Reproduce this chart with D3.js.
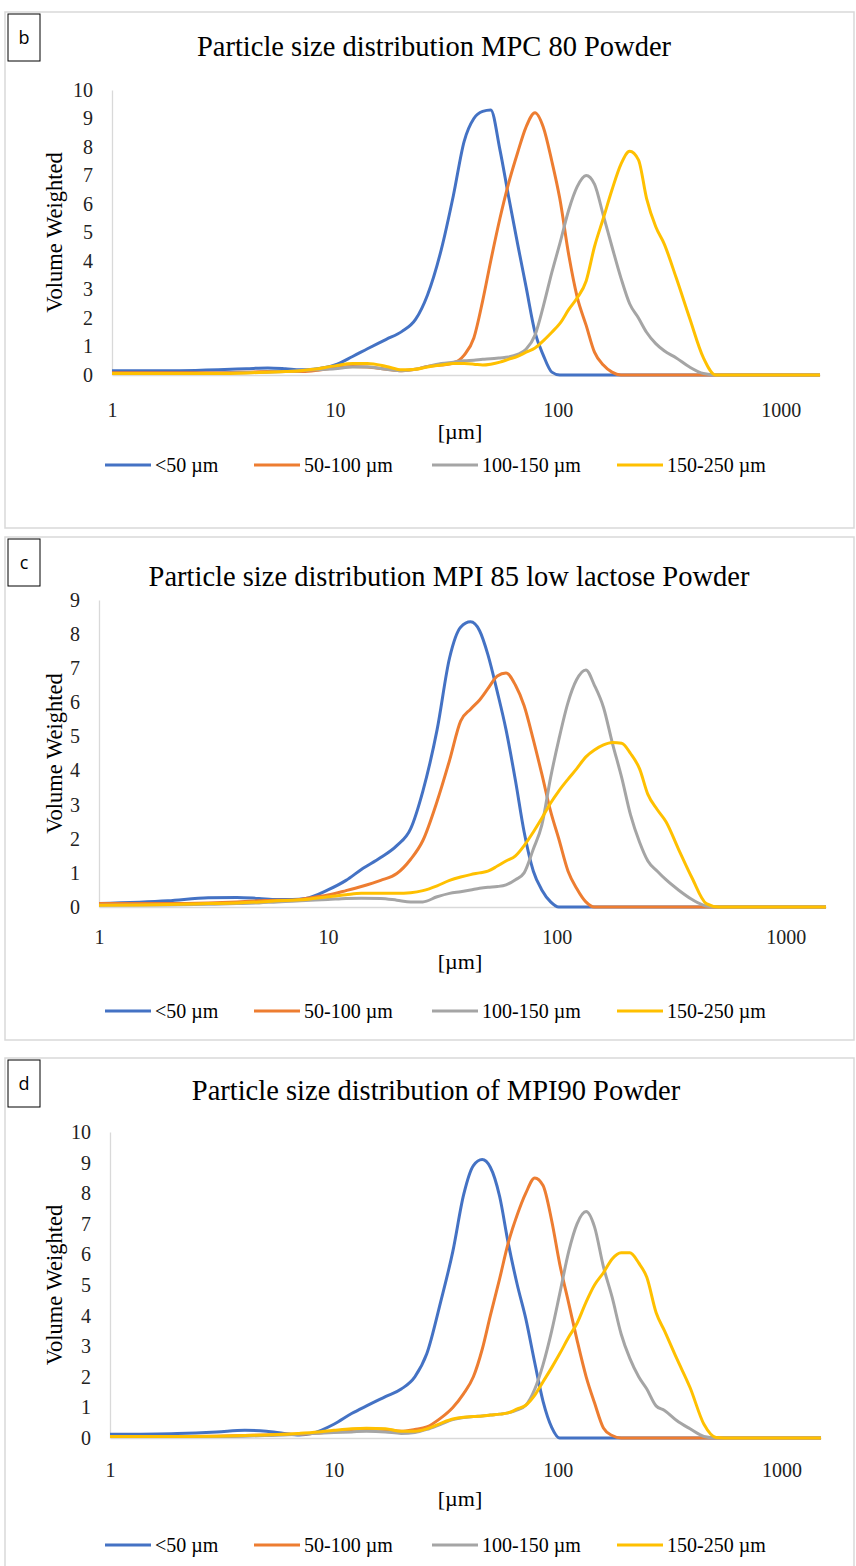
<!DOCTYPE html>
<html>
<head>
<meta charset="utf-8">
<script src="https://cdn.jsdelivr.net/npm/d3@7"></script>
<style>
  body { margin: 0; background: #fff; }
  svg { display: block; }
  text { font-family: 'Liberation Serif', 'Times New Roman', serif; fill: #000; }
  .tick text { font-size: 20px; fill: #222; }
  .boxlabel { font-family: 'Open Sans', 'Noto Sans', sans-serif; font-size: 18px; }
</style>
</head>
<body>
<div id="chart"></div>
<script>
// particle size grid (µm), shared by every series
var sizes = [1, 2, 3, 4, 5, 6, 7, 8,
  10, 12, 14, 17, 20, 23, 26, 30, 34, 38,
  42, 46, 50, 55, 60, 66, 72, 79, 86, 94,
  102, 112, 122, 134, 146, 160, 175, 192, 210, 230,
  250, 275, 300, 340, 390, 450, 510, 600, 1000, 1500];

var seriesNames = ['<50 µm', '50-100 µm', '100-150 µm', '150-250 µm'];
var xTicks = [1, 10, 100, 1000];

// b: MPC 80
var mpc80_lt50 = [0.15, 0.15, 0.18, 0.22, 0.25, 0.22, 0.18, 0.2,
  0.35, 0.65, 0.92, 1.25, 1.53, 1.95, 2.8, 4.4, 6.3, 8.2,
  9.0, 9.25, 9.3, 7.9, 6.3, 4.6, 3.1, 1.5, 0.7, 0.1,
  0, 0, 0, 0, 0, 0, 0, 0, 0, 0,
  0, 0, 0, 0, 0, 0, 0, 0, 0, 0];
var mpc80_50_100 = [0.08, 0.08, 0.08, 0.1, 0.12, 0.12, 0.12, 0.15,
  0.25, 0.3, 0.28, 0.2, 0.15, 0.2, 0.3, 0.35, 0.42, 0.7,
  1.3, 2.6, 4.0, 5.5, 6.7, 7.8, 8.7, 9.2, 8.7, 7.5,
  6.2, 4.2, 2.75, 1.74, 0.8, 0.35, 0.1, 0, 0, 0,
  0, 0, 0, 0, 0, 0, 0, 0, 0, 0];
var mpc80_100_150 = [0.05, 0.05, 0.06, 0.08, 0.1, 0.12, 0.15, 0.18,
  0.22, 0.28, 0.28, 0.2, 0.15, 0.2, 0.3, 0.4, 0.45, 0.5,
  0.52, 0.55, 0.57, 0.6, 0.63, 0.72, 0.9, 1.4, 2.4, 3.6,
  4.6, 5.8, 6.6, 7.0, 6.7, 5.6, 4.5, 3.4, 2.5, 2.0,
  1.5, 1.1, 0.85, 0.6, 0.28, 0.05, 0, 0, 0, 0];
var mpc80_150_250 = [0.05, 0.05, 0.05, 0.07, 0.1, 0.12, 0.15, 0.2,
  0.32, 0.4, 0.4, 0.3, 0.18, 0.2, 0.28, 0.35, 0.4, 0.4,
  0.38, 0.35, 0.38, 0.45, 0.55, 0.65, 0.8, 0.95, 1.2, 1.5,
  1.8, 2.3, 2.7, 3.3, 4.5, 5.5, 6.5, 7.4, 7.85, 7.55,
  6.2, 5.2, 4.6, 3.4, 2.0, 0.6, 0, 0, 0, 0];

// c: MPI 85 low lactose
var mpi85_lt50 = [0.1, 0.18, 0.27, 0.28, 0.25, 0.22, 0.22, 0.25,
  0.5, 0.78, 1.1, 1.45, 1.8, 2.3, 3.4, 5.2, 7.3, 8.2,
  8.36, 8.1, 7.4, 6.3, 5.2, 3.7, 2.2, 1.05, 0.5, 0.15,
  0, 0, 0, 0, 0, 0, 0, 0, 0, 0,
  0, 0, 0, 0, 0, 0, 0, 0, 0, 0];
var mpi85_50_100 = [0.1, 0.1, 0.12, 0.15, 0.18, 0.2, 0.2, 0.25,
  0.35, 0.48, 0.6, 0.78, 0.98, 1.4, 1.95, 3.1, 4.3, 5.45,
  5.8, 6.07, 6.4, 6.77, 6.86, 6.5, 5.9, 4.9, 3.9, 2.8,
  2.0, 1.05, 0.55, 0.15, 0, 0, 0, 0, 0, 0,
  0, 0, 0, 0, 0, 0, 0, 0, 0, 0];
var mpi85_100_150 = [0.05, 0.06, 0.08, 0.1, 0.12, 0.15, 0.17, 0.19,
  0.22, 0.25, 0.26, 0.25, 0.2, 0.15, 0.15, 0.3, 0.4, 0.45,
  0.5, 0.55, 0.58, 0.6, 0.65, 0.8, 1.0, 1.7, 2.4, 3.8,
  4.9, 6.0, 6.66, 6.95, 6.5, 5.85, 4.8, 3.8, 2.7, 1.9,
  1.35, 1.05, 0.8, 0.5, 0.22, 0.03, 0, 0, 0, 0];
var mpi85_150_250 = [0.05, 0.07, 0.1, 0.12, 0.15, 0.18, 0.2, 0.22,
  0.3, 0.36, 0.4, 0.4, 0.4, 0.42, 0.48, 0.62, 0.78, 0.88,
  0.95, 1.0, 1.05, 1.2, 1.35, 1.5, 1.8, 2.2, 2.6, 3.05,
  3.4, 3.75, 4.05, 4.4, 4.6, 4.75, 4.82, 4.8, 4.5, 4.05,
  3.3, 2.85, 2.5, 1.7, 0.85, 0.1, 0, 0, 0, 0];

// d: MPI90
var mpi90_lt50 = [0.12, 0.15, 0.2, 0.25, 0.22, 0.15, 0.1, 0.15,
  0.45, 0.8, 1.05, 1.35, 1.6, 2.0, 2.75, 4.45, 6.1, 7.95,
  8.9, 9.1, 8.85, 7.9, 6.4, 5.0, 3.9, 2.45, 1.2, 0.35,
  0, 0, 0, 0, 0, 0, 0, 0, 0, 0,
  0, 0, 0, 0, 0, 0, 0, 0, 0, 0];
var mpi90_50_100 = [0.05, 0.05, 0.06, 0.08, 0.1, 0.12, 0.12, 0.15,
  0.2, 0.28, 0.3, 0.28, 0.22, 0.28, 0.36, 0.65, 1.0, 1.45,
  2.0, 2.9, 4.0, 5.2, 6.35, 7.3, 8.0, 8.5, 8.25, 7.1,
  5.7, 4.4, 3.2, 2.0, 1.15, 0.33, 0.08, 0, 0, 0,
  0, 0, 0, 0, 0, 0, 0, 0, 0, 0];
var mpi90_100_150 = [0.05, 0.05, 0.05, 0.06, 0.08, 0.1, 0.12, 0.15,
  0.18, 0.2, 0.22, 0.2, 0.15, 0.18, 0.28, 0.45, 0.6, 0.67,
  0.7, 0.72, 0.75, 0.78, 0.82, 0.92, 1.07, 1.6, 2.4, 3.5,
  4.7, 6.1, 7.0, 7.4, 6.9, 5.6, 4.6, 3.4, 2.6, 2.0,
  1.6, 1.05, 0.9, 0.57, 0.3, 0.05, 0, 0, 0, 0];
var mpi90_150_250 = [0.05, 0.05, 0.06, 0.08, 0.1, 0.12, 0.15, 0.18,
  0.25, 0.3, 0.32, 0.3, 0.22, 0.22, 0.3, 0.48, 0.62, 0.68,
  0.7, 0.72, 0.75, 0.78, 0.82, 0.95, 1.07, 1.4, 1.84, 2.3,
  2.75, 3.3, 3.75, 4.45, 5.0, 5.4, 5.85, 6.05, 6.05, 5.72,
  5.25, 4.1, 3.5, 2.6, 1.65, 0.45, 0.02, 0, 0, 0];

var colors = ['#4472c4', '#ed7d31', '#a5a5a5', '#ffc000'];

var width = 856, height = 1566;

var panels = [
  {tag: 'b', title: 'Particle size distribution MPC 80 Powder',
   series: [mpc80_lt50, mpc80_50_100, mpc80_100_150, mpc80_150_250],
   yMax: 10, top: 12, bottom: 528, x0: 112, x1: 820, yBase: 375, yTop: 90,
   titleX: 434, titleY: 56, tickY: 410, unitY: 439, legendY: 465},
  {tag: 'c', title: 'Particle size distribution MPI 85 low lactose Powder',
   series: [mpi85_lt50, mpi85_50_100, mpi85_100_150, mpi85_150_250],
   yMax: 9, top: 537, bottom: 1040, x0: 99, x1: 826, yBase: 907, yTop: 600,
   titleX: 449, titleY: 586, tickY: 937, unitY: 969, legendY: 1011},
  {tag: 'd', title: 'Particle size distribution of MPI90 Powder',
   series: [mpi90_lt50, mpi90_50_100, mpi90_100_150, mpi90_150_250],
   yMax: 10, top: 1058, bottom: 1600, x0: 110, x1: 821, yBase: 1438, yTop: 1132,
   titleX: 436, titleY: 1100, tickY: 1470, unitY: 1506, legendY: 1545}
];

var svg = d3.select('#chart')
  .append('svg')
  .attr('width', width)
  .attr('height', height);

svg.append('rect').attr('width', width).attr('height', height).attr('fill', '#fff');

panels.forEach(function(p) {
  var g = svg.append('g');

  // panel frame
  g.append('rect')
    .attr('x', 5).attr('y', p.top)
    .attr('width', 849).attr('height', p.bottom - p.top)
    .attr('fill', 'none').attr('stroke', '#d9d9d9').attr('stroke-width', 1.5);

  // letter box
  g.append('rect')
    .attr('x', 8).attr('y', p.top + 2).attr('width', 32).attr('height', 47)
    .attr('fill', '#fff').attr('stroke', '#000').attr('stroke-width', 1);
  g.append('text').attr('class', 'boxlabel')
    .attr('x', 24).attr('y', p.top + 32).attr('text-anchor', 'middle')
    .text(p.tag);

  g.append('text')
    .attr('x', p.titleX).attr('y', p.titleY)
    .attr('text-anchor', 'middle')
    .style('font-size', '28.5px')
    .text(p.title);

  var x = d3.scaleLog().domain([1, 1500]).range([p.x0, p.x1]);
  var y = d3.scaleLinear().domain([0, p.yMax]).range([p.yBase, p.yTop]);

  // y axis
  var yAxis = g.append('g')
    .attr('transform', 'translate(' + p.x0 + ',0)')
    .call(d3.axisLeft(y).ticks(p.yMax).tickSize(0).tickPadding(19));
  yAxis.select('.domain').attr('stroke', '#d9d9d9').attr('stroke-width', 1.3);

  // x axis
  var xAxis = g.append('g')
    .attr('transform', 'translate(0,' + p.yBase + ')')
    .call(d3.axisBottom(x).tickValues(xTicks).tickFormat(d3.format('d')).tickSize(0));
  xAxis.select('.domain').attr('stroke', '#d9d9d9').attr('stroke-width', 1.3);
  xAxis.selectAll('.tick text').attr('dy', null).attr('y', p.tickY - p.yBase + 7);

  g.append('text')
    .attr('transform', 'translate(62,' + (p.yBase + p.yTop) / 2 + ') rotate(-90)')
    .attr('text-anchor', 'middle')
    .style('font-size', '22.5px')
    .text('Volume Weighted');

  g.append('text')
    .attr('x', 460).attr('y', p.unitY)
    .attr('text-anchor', 'middle')
    .style('font-size', '22px')
    .text('[µm]');

  var line = d3.line()
    .x(function(d, i) { return x(sizes[i]); })
    .y(function(d) { return y(d); })
    .curve(d3.curveMonotoneX);

  p.series.forEach(function(s, k) {
    g.append('path')
      .datum(s)
      .attr('d', line)
      .attr('fill', 'none')
      .attr('stroke', colors[k])
      .attr('stroke-width', 3)
      .attr('stroke-linejoin', 'round');
  });

  // legend
  var legendX = [105, 254, 432, 617];
  var leg = g.selectAll('.leg').data(seriesNames).enter().append('g')
    .attr('transform', function(d, i) { return 'translate(' + legendX[i] + ',' + p.legendY + ')'; });
  leg.append('line')
    .attr('x1', 0).attr('x2', 46)
    .attr('stroke', function(d, i) { return colors[i]; })
    .attr('stroke-width', 3.2);
  leg.append('text')
    .attr('x', 50).attr('y', 7)
    .style('font-size', '20px')
    .text(function(d) { return d; });
});
</script>
</body>
</html>
